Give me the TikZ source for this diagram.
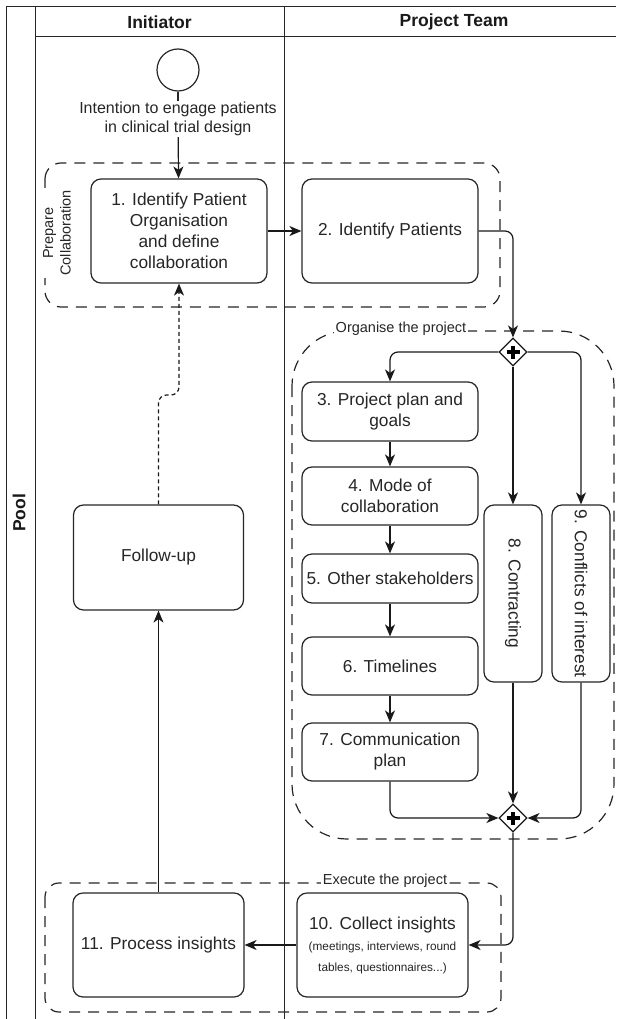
\documentclass[tikz,border=0pt]{standalone}
\usepackage{fontspec}
\setmainfont{Liberation Sans}
\usetikzlibrary{arrows.meta,shapes.geometric}
\begin{document}
\begin{tikzpicture}[x=1pt,y=-1pt,
  ln/.style={draw=black!85, line width=1.2pt},
  box/.style={ln, fill=white, rounded corners=10pt, align=center, font=\fontsize{17.3}{21}\selectfont, text=black!85, inner sep=2pt},
  region/.style={draw=black!85, line width=1.2pt, dash pattern=on 11pt off 8pt},
  rlabel/.style={fill=white, inner sep=2pt, font=\fontsize{14.5}{17.5}\selectfont, text=black!85},
  arr/.style={line width=1.2pt, draw=black!90, -{Stealth[length=12pt,width=10pt,inset=3.5pt]}, rounded corners=8pt},
  gate/.style={diamond, draw=black!90, line width=1.2pt, fill=white, minimum width=28pt, minimum height=28pt, inner sep=0pt,
    path picture={\draw[line width=4pt,black] (path picture bounding box.center) ++(-6.5pt,0pt) -- ++(13pt,0pt);
                  \draw[line width=4pt,black] (path picture bounding box.center) ++(0pt,-6.5pt) -- ++(0pt,13pt);}},
  pool/.style={draw=black!85, line width=1pt},
  hdr/.style={font=\bfseries\fontsize{17.5}{21}\selectfont, text=black!90}
]
\useasboundingbox (0,0) rectangle (616,1019);

% pool and lanes
\draw[pool] (6,1019) -- (6,7) -- (616,7);
\draw[pool] (35,7) -- (35,1019);
\draw[pool] (35,37) -- (616,37);
\draw[pool] (284,7) -- (284,1019);
\node[hdr] (hinit) at (159.5,22) {Initiator};
\node[hdr] (hproj) at (454,22) {Project Team};
\node[hdr, rotate=90] (hpool) at (19,513) {Pool};

% regions
\draw[region, rounded corners=16pt] (45,163) rectangle (500,307);
\draw[region, rounded corners=55pt] (292,331) rectangle (614,839);
\draw[region, rounded corners=14pt] (45,883) rectangle (501,1012);
\node[rlabel, rotate=90, align=center] (lprep) at (57,233) {Prepare\\Collaboration};
\node[rlabel] (lorg) at (401,329) {Organise the project};
\node[rlabel] (lexe) at (385,881) {Execute the project};

% start event
\node[circle, ln, minimum size=42pt, inner sep=0pt] (start) at (178,70) {};
\node[font=\fontsize{16}{19}\selectfont, text=black!85, align=center, inner sep=1pt] (lbl) at (178,119) {Intention to engage patients\\in clinical trial design};

% tasks
\node[box, minimum width=176pt, minimum height=104pt] (b1) at (179,231) {1. Identify Patient\\Organisation\\and define\\collaboration};
\node[box, minimum width=176pt, minimum height=104pt] (b2) at (390,231) {2. Identify Patients};
\node[box, minimum width=176pt, minimum height=59pt] (b3) at (390,411.5) {3. Project plan and\\goals};
\node[box, minimum width=176pt, minimum height=58pt] (b4) at (390,496) {4. Mode of\\collaboration};
\node[box, minimum width=176pt, minimum height=49pt] (b5) at (390,578.5) {5. Other stakeholders};
\node[box, minimum width=176pt, minimum height=58pt] (b6) at (390,666) {6. Timelines};
\node[box, minimum width=176pt, minimum height=58pt] (b7) at (390,752) {7. Communication\\plan};
\node[box, rotate=-90, minimum width=177pt, minimum height=58pt] (b8) at (513,593.5) {8. Contracting};
\node[box, rotate=-90, minimum width=177pt, minimum height=58pt, inner sep=0pt] (b9) at (581,593.5) {9. Conflicts of interest};
\node[box, minimum width=170pt, minimum height=105pt] (fu) at (158.5,557.5) {Follow-up};
\node[box, minimum width=171pt, minimum height=104pt] (b10) at (382.5,945) {10. Collect insights\\{\fontsize{11.8}{14}\selectfont (meetings, interviews, round}\\{\fontsize{11.8}{14}\selectfont tables, questionnaires...)}};
\node[box, minimum width=171pt, minimum height=104pt] (b11) at (158.5,945) {11. Process insights};

% gateways
\node[gate] (g1) at (513,352) {};
\node[gate] (g2) at (513,818) {};

% connectors
\draw[ln] (start) -- (lbl);
\draw[arr] (lbl) -- (b1);
\draw[arr] (b1.east) -- (b2.west);
\draw[arr] (b2.east) -| (g1.north);
\draw[arr] (g1.west) -| (b3.north);
\draw[arr] (g1) -- (b8);
\draw[arr] (g1.east) -| (b9);
\draw[arr] (b3) -- (b4);
\draw[arr] (b4) -- (b5);
\draw[arr] (b5) -- (b6);
\draw[arr] (b6) -- (b7);
\draw[arr] (b7.south) |- (g2.west);
\draw[arr] (b8) -- (g2);
\draw[arr] (b9) |- (g2.east);
\draw[arr] (g2.south) |- (b10.east);
\draw[arr] (b10.west) -- (b11.east);
\draw[arr] (b11.north) -- (fu.south);
\coordinate (k1) at (158.5,395);
\coordinate (k2) at (179,395);
\draw[arr, dash pattern=on 4pt off 3pt] (fu.north) -- (k1) -- (k2) -- (b1.south);
\end{tikzpicture}
\end{document}
